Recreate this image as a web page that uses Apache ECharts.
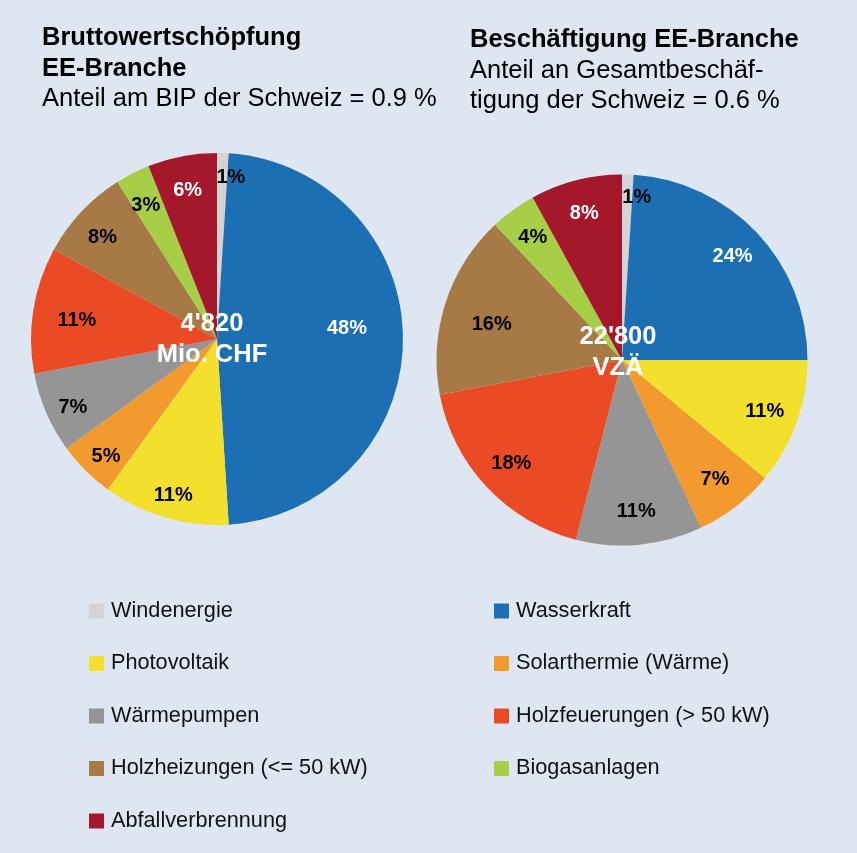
<!DOCTYPE html>
<html>
<head>
<meta charset="utf-8">
<script src="https://cdn.jsdelivr.net/npm/echarts@6/dist/echarts.min.js"></script>
<style>
  html, body { margin: 0; padding: 0; background: #dee7f1; }
  #main { width: 857px; height: 853px; }
</style>
</head>
<body>
<div id="main"></div>
<script>
// Kategorien (Reihenfolge im Uhrzeigersinn ab 12 Uhr)
var categories = ['Windenergie', 'Wasserkraft', 'Photovoltaik', 'Solarthermie (Wärme)', 'Wärmepumpen',
    'Holzfeuerungen (> 50 kW)', 'Holzheizungen (<= 50 kW)', 'Biogasanlagen', 'Abfallverbrennung'];
// Anteile in %
var wertschoepfung = [1, 48, 11, 5, 7, 11, 8, 3, 6];
var beschaeftigung = [1, 24, 11, 7, 11, 18, 16, 4, 8];
var colors = ['#d4d4d4', '#1d6fb3', '#f3e02c', '#f39a2e', '#959595', '#ea4b24', '#a67945', '#a6ce46', '#a5172a'];
var whiteLabels = ['Wasserkraft', 'Abfallverbrennung'];

var legendLeft = ['Windenergie', 'Photovoltaik', 'Wärmepumpen', 'Holzheizungen (<= 50 kW)', 'Abfallverbrennung'];
var legendRight = ['Wasserkraft', 'Solarthermie (Wärme)', 'Holzfeuerungen (> 50 kW)', 'Biogasanlagen'];

var font = "'Liberation Sans', Arial, Helvetica, sans-serif";

var myChart = echarts.init(document.getElementById('main'));

function pieData(values, withLabel, tweak) {
    var out = [];
    for (let i = 0; i < categories.length; i++) {
        var item = {
            name: categories[i],
            value: values[i],
            itemStyle: { color: withLabel ? 'transparent' : colors[i] }
        };
        if (withLabel) {
            item.label = { color: whiteLabels.indexOf(categories[i]) >= 0 ? '#fff' : '#000' };
            var t = tweak && tweak[categories[i]];
            if (t) {
                if (t.pad) item.label.padding = t.pad;
                if (t.lh) item.label.lineHeight = t.lh;
                if (t.up) item.label.formatter = '{c}%\n ';
                if (t.down) item.label.formatter = ' \n{c}%';
            }
        }
        out.push(item);
    }
    return out;
}

// Hauptkreis ohne Beschriftung
function mainPie(center, r, values) {
    return {
        type: 'pie', center: center, radius: [0, r],
        startAngle: 90, clockwise: true,
        label: { show: false }, labelLine: { show: false },
        emphasis: { disabled: true },
        data: pieData(values, false)
    };
}
// transparenter Ring nur fuer die Prozentbeschriftung
function labelRing(center, r0, r, values, tweak) {
    return {
        type: 'pie', center: center, radius: [r0, r],
        startAngle: 90, clockwise: true, silent: true,
        avoidLabelOverlap: false,
        labelLayout: { hideOverlap: false },
        label: {
            show: true, position: 'inside', formatter: '{c}%',
            fontSize: 20, fontWeight: 'bold', fontFamily: font, lineHeight: 22
        },
        labelLine: { show: false },
        emphasis: { disabled: true },
        data: pieData(values, true, tweak)
    };
}

var richTitle = {
    b: { fontWeight: 'bold', fontSize: 25.5, lineHeight: 30.5, color: '#000', fontFamily: font },
    n: { fontWeight: 'normal', fontSize: 25.5, lineHeight: 30.5, color: '#000', fontFamily: font }
};

var option = {
    backgroundColor: '#dee7f1',
    textStyle: { fontFamily: font },
    title: [{
        left: 42, top: 23, padding: 0,
        text: '{b|Bruttowertschöpfung}\n{b|EE-Branche}\n{n|Anteil am BIP der Schweiz = 0.9 %}',
        textStyle: { rich: richTitle }
    }, {
        left: 470, top: 25, padding: 0,
        text: '{b|Beschäftigung EE-Branche}\n{n|Anteil an Gesamtbeschäf-}\n{n|tigung der Schweiz = 0.6 %}',
        textStyle: { rich: richTitle }
    }],
    legend: [{
        data: legendLeft, orient: 'vertical', left: 89, top: 600, padding: 0,
        itemWidth: 15, itemHeight: 15, itemGap: 30.5, icon: 'rect', selectedMode: false,
        textStyle: { fontSize: 21.7, lineHeight: 21, color: '#111', fontFamily: font, padding: [0, 0, 0, 2] }
    }, {
        data: legendRight, orient: 'vertical', left: 494, top: 600, padding: 0,
        itemWidth: 15, itemHeight: 15, itemGap: 30.5, icon: 'rect', selectedMode: false,
        textStyle: { fontSize: 21.7, lineHeight: 21, color: '#111', fontFamily: font, padding: [0, 0, 0, 2] }
    }],
    graphic: [{
        type: 'text', x: 212, y: 339, z: 100,
        style: { text: "4'820\nMio. CHF", fill: '#fff', font: 'bold 25.5px ' + font,
                 align: 'center', verticalAlign: 'middle', lineHeight: 31 }
    }, {
        type: 'text', x: 618, y: 352, z: 100,
        style: { text: "22'800\nVZÄ", fill: '#fff', font: 'bold 25.5px ' + font,
                 align: 'center', verticalAlign: 'middle', lineHeight: 31 }
    }],
    series: [
        mainPie([217, 339], 186, wertschoepfung),
        mainPie([622, 360], 185.5, beschaeftigung),
        labelRing([217, 345], 122, 186, wertschoepfung, {
            'Wasserkraft': { pad: [0, 54, 0, 0], up: true, lh: 34 },
            'Windenergie': { pad: [0, 0, 0, 18], up: true },
            'Holzfeuerungen (> 50 kW)': { pad: [0, 0, 0, 30] }
        }),
        labelRing([622, 360], 112, 185.5, beschaeftigung, {
            'Windenergie': { pad: [0, 0, 0, 20], up: true },
            'Holzheizungen (<= 50 kW)': { pad: [0, 0, 0, 28], down: true }
        })
    ]
};
myChart.setOption(option);
</script>
</body>
</html>
